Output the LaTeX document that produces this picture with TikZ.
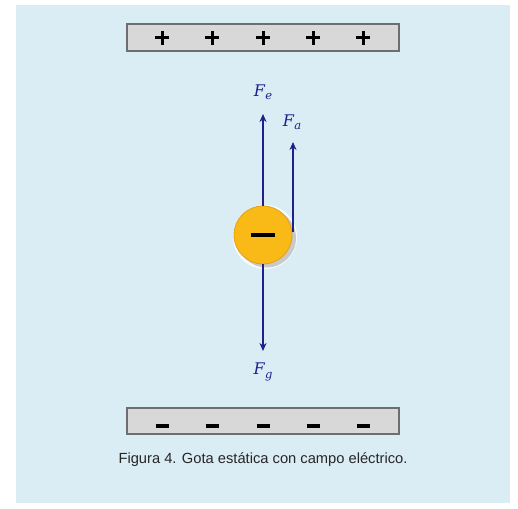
\documentclass[tikz,border=0pt]{standalone}
\usepackage{fontspec}
\setmainfont{Liberation Sans}
\newfontfamily\lblfont{DejaVu Serif}
\usetikzlibrary{arrows.meta}
\definecolor{bg}{RGB}{219,237,244}
\definecolor{plate}{RGB}{216,216,216}
\definecolor{plateedge}{RGB}{110,110,110}
\definecolor{force}{RGB}{32,32,140}
\definecolor{drop}{RGB}{249,186,24}
\definecolor{dropedge}{RGB}{226,160,20}
\newcommand{\flab}[1]{{\lblfont\itshape\fontsize{16}{18}\selectfont F\kern0.5pt\raisebox{-3.5pt}{\fontsize{11.5}{12}\selectfont #1}}}
\begin{document}
\begin{tikzpicture}[x=1pt,y=-1pt,
  platebox/.style={draw=plateedge,fill=plate,line width=1.4pt},
  sign/.style={black,line width=3pt},
  forcearrow/.style={force,line width=2.3pt,-{Stealth[length=8pt,width=7pt]}},
  flabel/.style={text=force,inner sep=0pt}]
\useasboundingbox (0,0) rectangle (518,508);
\fill[bg] (16,5) rectangle (510,503);
% plates
\node[platebox,minimum width=272pt,minimum height=27pt,inner sep=0pt] (top) at (263,37.5) {};
\node[platebox,minimum width=272pt,minimum height=26pt,inner sep=0pt] (bot) at (263,421) {};
\foreach \x in {162,212,263,313,363}{
  \draw[sign] (\x-7,38) -- (\x+7,38);
  \draw[sign] (\x,31) -- (\x,45);
  \draw[black,line width=4pt] (\x-6.5,426) -- (\x+6.5,426);
}
% drop
\fill[white,opacity=0.8] (265,237) circle (32);
\fill[gray,opacity=0.4] (266.5,238) circle (29.5);
\node[circle,draw=dropedge,fill=drop,line width=0.8pt,minimum size=58pt,inner sep=0pt] (drop) at (263,235) {};
\draw[black,line width=4pt] (251,235) -- (275,235);
% forces
\coordinate (fetip) at (263,114);
\coordinate (fatip) at (293,142);
\coordinate (fgtip) at (263,351);
\coordinate (fabase) at (293,232);
\draw[forcearrow] (drop.north) -- (fetip);
\draw[forcearrow] (fabase) -- (fatip);
\draw[forcearrow] (drop.south) -- (fgtip);
\node[flabel] (fe) at (263,92) {\flab{e}};
\node[flabel] (fa) at (292,122) {\flab{a}};
\node[flabel] (fg) at (263,372) {\flab{g}};
% caption
\node[font=\fontsize{14.7}{17}\selectfont,text=black!85,inner sep=0pt] (cap) at (263,460) {Figura 4. Gota estática con campo eléctrico.};
\end{tikzpicture}
\end{document}
